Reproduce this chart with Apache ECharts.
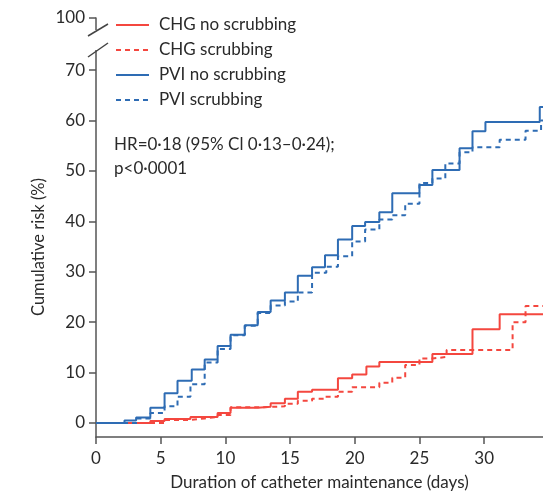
<!DOCTYPE html>
<html>
<head>
<meta charset="utf-8">
<script src="https://cdn.jsdelivr.net/npm/echarts@6/dist/echarts.min.js"></script>
<style>
html,body{margin:0;padding:0;background:#fff;}
#chart{width:543px;height:492px;}
</style>
</head>
<body>
<div id="chart"></div>
<script>
// ---- data (days, cumulative risk %) ----
const seriesNames = ['CHG no scrubbing', 'CHG scrubbing', 'PVI no scrubbing', 'PVI scrubbing'];

const chgNoDays = [0, 4.2, 5.3, 7.3, 9.4, 10.4, 12.5, 13.5, 14.6, 15.6, 16.7, 18.7, 19.8, 20.9, 21.9, 26.0, 29.1, 31.2, 34.55];
const chgNoRisk = [0, 0.4, 0.8, 1.2, 2.0, 3.0, 3.2, 3.9, 4.8, 6.2, 6.6, 8.9, 9.6, 11.2, 12.1, 13.7, 18.6, 21.6, 21.6];

const chgScDays = [0, 5.3, 7.3, 8.4, 9.4, 10.4, 12.5, 14.6, 15.6, 16.7, 17.7, 18.7, 19.8, 21.9, 22.9, 23.9, 25.0, 26.0, 27.1, 32.2, 33.2, 34.55];
const chgScRisk = [0, 0.6, 0.9, 1.2, 1.6, 3.1, 3.3, 3.8, 4.4, 4.8, 5.2, 6.2, 7.1, 8.0, 9.0, 11.5, 12.8, 13.1, 14.5, 20.0, 23.2, 23.2];

const pviNoDays = [0, 2.2, 3.1, 4.2, 5.3, 6.3, 7.4, 8.4, 9.4, 10.4, 11.5, 12.5, 13.5, 14.6, 15.6, 16.7, 17.7, 18.7, 19.8, 20.8, 21.9, 22.9, 25.0, 26.0, 28.1, 29.1, 30.1, 34.3, 34.55];
const pviNoRisk = [0, 0.5, 1.1, 3.0, 5.9, 8.4, 10.6, 12.6, 15.3, 17.5, 19.4, 22.0, 24.3, 25.9, 29.2, 30.9, 33.3, 36.4, 39.1, 39.9, 41.8, 45.6, 47.2, 50.2, 54.5, 57.9, 59.7, 62.7, 62.7];

const pviScDays = [0, 3.2, 4.2, 5.3, 6.3, 7.3, 8.4, 9.4, 10.4, 11.5, 12.5, 13.5, 14.6, 15.6, 16.7, 17.8, 18.7, 19.8, 20.8, 21.9, 22.9, 23.9, 25.0, 26.0, 27.0, 28.1, 29.1, 31.2, 33.2, 34.4, 34.55];
const pviScRisk = [0, 0.9, 2.0, 3.3, 5.2, 7.7, 12.0, 14.7, 17.4, 19.3, 21.8, 23.3, 24.1, 25.9, 29.8, 31.0, 33.1, 36.0, 38.4, 40.4, 41.2, 43.5, 47.6, 48.5, 51.5, 53.7, 54.7, 56.2, 58.0, 60.0, 60.0];

const xTicks = [0, 5, 10, 15, 20, 25, 30];
const yTicks = [0, 10, 20, 30, 40, 50, 60, 70];
const yTopTickLabel = '100';
const annotationLines = ['HR=0·18 (95% Cl 0·13–0·24);', 'p<0·0001'];
const xTitle = 'Duration of catheter maintenance (days)';
const yTitle = 'Cumulative risk (%)';

// ---- chart ----
const RED = '#f4473f';
const BLUE = '#2e6cb4';
const AXIS = '#555555';
const TXT = '#2a2a2a';
const FONT = 'Lato, "Open Sans", sans-serif';

const Y_MIN = -2.78;   // x-axis sits below zero
const Y_MAX = 80.36;   // broken axis: top tick stands for 100
const X_MAX = 34.55;

function zip(a, b) { return a.map((v, i) => [v, b[i]]); }

const chart = echarts.init(document.getElementById('chart'), null, {renderer: 'canvas'});

const yTickVals = yTicks.concat([Y_MAX]);

function mkSeries(name, days, risk, color, dashed) {
  return {
    name: name,
    type: 'line',
    step: 'end',
    symbol: 'none',
    showSymbol: false,
    data: zip(days, risk),
    lineStyle: {color: color, width: 2, type: dashed ? [5, 4] : 'solid'},
    itemStyle: {color: color},
    emphasis: {disabled: true},
    animation: false
  };
}

const option = {
  backgroundColor: '#ffffff',
  animation: false,
  grid: {left: 96, right: 0, top: 18, bottom: 55, containLabel: false, outerBoundsMode: 'none'},
  legend: {
    data: seriesNames,
    orient: 'vertical',
    left: 115,
    top: 15,
    padding: 0,
    itemWidth: 33,
    itemHeight: 10,
    itemGap: 5,
    itemStyle: {opacity: 0},
    textStyle: {fontFamily: FONT, fontSize: 17, color: TXT, lineHeight: 20, padding: [0, 0, 0, 5]},
    selectedMode: false
  },
  xAxis: {
    type: 'value',
    min: 0,
    max: X_MAX,
    interval: 5,
    axisLine: {show: true, onZero: false, lineStyle: {color: AXIS, width: 1.5}},
    axisTick: {show: true, length: 7, lineStyle: {color: AXIS, width: 1.5}, customValues: xTicks},
    axisLabel: {fontFamily: FONT, fontSize: 17, color: TXT, margin: 13, customValues: xTicks},
    splitLine: {show: false},
    name: xTitle,
    nameLocation: 'middle',
    nameGap: 37,
    nameTextStyle: {fontFamily: FONT, fontSize: 17, color: TXT}
  },
  yAxis: {
    type: 'value',
    min: Y_MIN,
    max: Y_MAX,
    axisLine: {show: true, onZero: false, lineStyle: {color: AXIS, width: 1.5}},
    axisTick: {show: true, length: 7, lineStyle: {color: AXIS, width: 1.5}, customValues: yTickVals},
    axisLabel: {
      fontFamily: FONT, fontSize: 17, color: TXT, margin: 11,
      customValues: yTickVals,
      formatter: function (v) { return v > 75 ? yTopTickLabel : String(Math.round(v)); }
    },
    splitLine: {show: false}
  },
  graphic: [
    // axis break: hide a piece of the y-axis and add two slashes
    {type: 'rect', z: 100, shape: {x: 92, y: 30, width: 8, height: 20}, style: {fill: '#ffffff'}},
    {type: 'line', z: 101, shape: {x1: 88, y1: 36, x2: 108, y2: 24}, style: {stroke: '#444', lineWidth: 1.5}},
    {type: 'line', z: 101, shape: {x1: 88, y1: 57, x2: 108, y2: 43}, style: {stroke: '#444', lineWidth: 1.5}},
    {type: 'text', z: 100, left: 114, top: 136, style: {text: annotationLines[0], font: '17px ' + FONT, fill: TXT}},
    {type: 'text', z: 100, left: 114, top: 160, style: {text: annotationLines[1], font: '17px ' + FONT, fill: TXT}},
    {type: 'text', z: 100, x: 39, y: 247, rotation: Math.PI / 2,
      style: {text: yTitle, font: '16.5px ' + FONT, fill: TXT, align: 'center', verticalAlign: 'middle'}}
  ],
  series: [
    mkSeries(seriesNames[0], chgNoDays, chgNoRisk, RED, false),
    mkSeries(seriesNames[1], chgScDays, chgScRisk, RED, true),
    mkSeries(seriesNames[2], pviNoDays, pviNoRisk, BLUE, false),
    mkSeries(seriesNames[3], pviScDays, pviScRisk, BLUE, true)
  ]
};
chart.setOption(option);
</script>
</body>
</html>
